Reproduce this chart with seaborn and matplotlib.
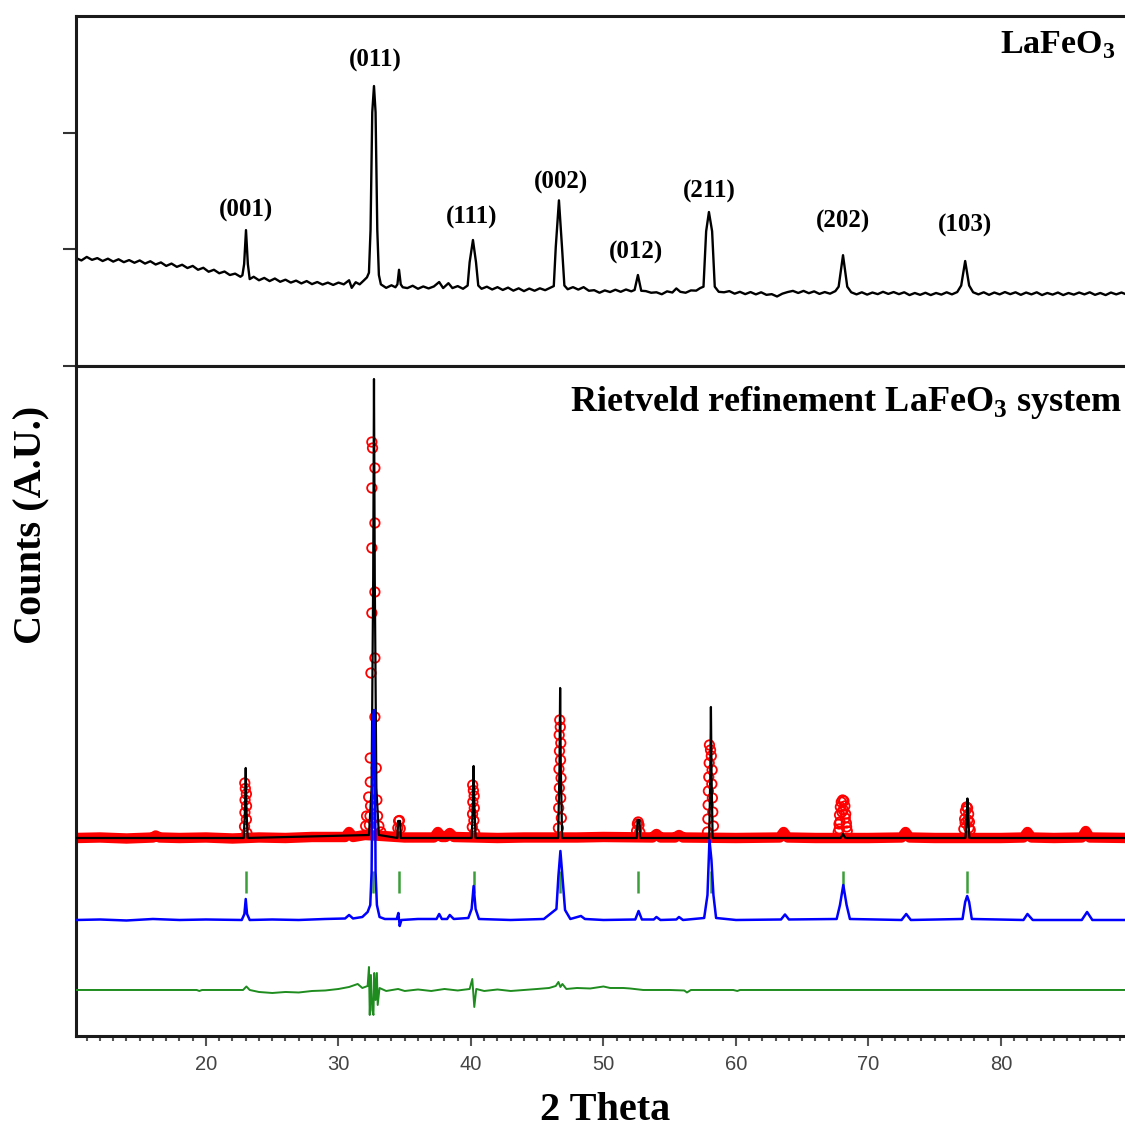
import matplotlib
matplotlib.use('Agg')
import matplotlib.pyplot as plt
from matplotlib.ticker import MultipleLocator, NullLocator
import seaborn as sns

# ── data ──────────────────────────────────────────────────────
# top panel: raw LaFeO3 pattern (2theta, counts)
top_tt = [10.2, 10.6, 11.0, 11.4, 11.8, 12.2, 12.6, 13.0, 13.4, 13.8,
          14.2, 14.6, 15.0, 15.4, 15.8, 16.2, 16.6, 17.0, 17.4, 17.8,
          18.2, 18.6, 19.0, 19.4, 19.8, 20.2, 20.6, 21.0, 21.4, 21.8,
          22.2, 22.6, 22.75, 22.88, 23.02, 23.16, 23.3, 23.6, 24.0, 24.4,
          24.8, 25.2, 25.6, 26.0, 26.4, 26.8, 27.2, 27.6, 28.0, 28.4,
          28.8, 29.2, 29.6, 30.0, 30.4, 30.8, 31.0, 31.3, 31.6, 31.9,
          32.15, 32.3, 32.42, 32.55, 32.68, 32.8, 32.93, 33.05, 33.2, 33.6,
          34.0, 34.3, 34.45, 34.57, 34.7, 34.85, 35.2, 35.6, 36.0, 36.4,
          36.8, 37.2, 37.6, 37.9, 38.3, 38.6, 39.0, 39.4, 39.75, 39.9,
          40.15, 40.38, 40.55, 40.8, 41.2, 41.6, 42.0, 42.4, 42.8, 43.2,
          43.6, 44.0, 44.4, 44.8, 45.2, 45.6, 46.0, 46.25, 46.4, 46.64,
          46.87, 47.05, 47.3, 47.7, 48.1, 48.5, 48.9, 49.3, 49.7, 50.1,
          50.5, 50.9, 51.3, 51.7, 52.1, 52.35, 52.6, 52.85, 53.2, 53.6,
          54.0, 54.4, 54.8, 55.2, 55.5, 55.8, 56.2, 56.6, 57.0, 57.3,
          57.55, 57.75, 57.96, 58.2, 58.4, 58.7, 59.1, 59.5, 59.9, 60.3,
          60.7, 61.1, 61.5, 61.9, 62.3, 62.7, 63.1, 63.5, 63.9, 64.3,
          64.7, 65.1, 65.5, 65.9, 66.3, 66.7, 67.1, 67.5, 67.75, 68.08,
          68.4, 68.7, 69.1, 69.5, 69.9, 70.3, 70.7, 71.1, 71.5, 71.9,
          72.3, 72.7, 73.1, 73.5, 73.9, 74.3, 74.7, 75.1, 75.5, 75.9,
          76.3, 76.7, 77.0, 77.3, 77.6, 77.9, 78.3, 78.7, 79.1, 79.5,
          79.9, 80.3, 80.7, 81.1, 81.5, 81.9, 82.3, 82.7, 83.1, 83.5,
          83.9, 84.3, 84.7, 85.1, 85.5, 85.9, 86.3, 86.7, 87.1, 87.5,
          87.9, 88.3, 88.7, 89.1, 89.5, 89.7]
top_I = [925, 905, 935, 910, 925, 900, 920, 895, 915, 890,
         908, 885, 905, 878, 898, 870, 888, 858, 878, 850,
         868, 840, 858, 825, 842, 808, 825, 795, 810, 780,
         792, 765, 778, 874, 1165, 874, 745, 765, 735, 755,
         728, 750, 722, 740, 715, 732, 708, 728, 702, 720,
         698, 715, 695, 715, 700, 735, 670, 718, 700, 732,
         760, 800, 1165, 2175, 2400, 2175, 1165, 780, 700, 670,
         692, 675, 700, 825, 700, 675, 668, 688, 662, 682,
         665, 682, 720, 668, 710, 668, 685, 662, 690, 890,
         1080, 890, 690, 662, 680, 656, 676, 652, 672, 646,
         666, 642, 664, 645, 666, 650, 672, 685, 1020, 1420,
         1020, 690, 658, 676, 655, 676, 645, 650, 628, 648,
         634, 654, 636, 656, 640, 652, 780, 645, 642, 628,
         632, 615, 640, 630, 665, 636, 628, 648, 646, 668,
         680, 1155, 1320, 1155, 680, 636, 632, 642, 620, 636,
         616, 634, 614, 632, 610, 616, 596, 620, 634, 644,
         626, 644, 624, 640, 618, 634, 620, 642, 680, 950,
         680, 632, 614, 632, 612, 630, 616, 636, 618, 634,
         616, 632, 608, 626, 610, 628, 608, 626, 612, 632,
         614, 634, 690, 900, 690, 632, 614, 632, 610, 630,
         614, 634, 616, 632, 610, 630, 614, 632, 608, 626,
         612, 630, 608, 626, 612, 630, 614, 632, 610, 626,
         608, 630, 614, 630, 612, 620]

hkl_labels = ['(001)', '(011)', '(111)', '(002)', '(012)', '(211)', '(202)', '(103)']
hkl_tt = [23.02, 32.75, 40.08, 46.79, 52.45, 57.96, 68.08, 77.28]
hkl_y = [1330, 2620, 1275, 1570, 977, 1500, 1243, 1208]

# bottom panel: observed background band (2theta, counts)
band_tt = [10.2, 12.0, 14.0, 16.0, 16.2, 16.5, 18.0, 20.0, 22.0, 24.0,
           26.0, 28.0, 30.5, 30.8, 31.1, 32.0, 33.3, 35.0, 37.2, 37.5,
           37.8, 38.1, 38.4, 38.7, 42.0, 44.0, 48.0, 50.0, 53.7, 54.0,
           54.3, 55.4, 55.7, 56.0, 60.0, 63.3, 63.6, 63.9, 66.0, 70.0,
           72.5, 72.8, 73.1, 75.0, 80.0, 81.7, 82.0, 82.3, 84.0, 86.1,
           86.4, 86.7, 89.7]
band_I = [0, 5, -5, 5, 25, 5, 0, 5, -5, 5,
          0, 10, 10, 60, 10, 30, 20, 5, 5, 60,
          10, 10, 50, 10, 0, 5, 5, 10, 5, 40,
          5, 5, 30, 5, 0, 5, 60, 5, 0, 0,
          5, 60, 5, 0, 0, 5, 60, 5, 0, 5,
          70, 5, 0]

# observed points on the peaks
obs_tt = ([22.93, 22.97, 23.05, 22.95, 23.06, 22.94, 23.05, 22.91, 23.09]
          + [32.52, 32.57, 32.75, 32.52, 32.75, 32.52, 32.75, 32.52, 32.75, 32.45,
             32.75, 32.40, 32.40, 32.28, 32.42, 32.38, 32.33, 32.85, 32.90, 32.95,
             33.05, 33.2, 32.05, 32.12]
          + [34.48, 34.54, 34.60, 34.66]
          + [40.13, 40.18, 40.24, 40.14, 40.25, 40.12, 40.22, 40.1, 40.28]
          + [46.70, 46.74, 46.66, 46.78, 46.68, 46.76, 46.64, 46.80, 46.67, 46.77,
             46.62, 46.82, 46.6]
          + [52.5, 52.56, 52.62, 52.68, 52.74]
          + [58.0, 58.08, 58.14, 57.98, 58.2, 57.95, 58.18, 57.92, 58.22, 57.9,
             58.25, 57.88, 58.3, 57.85]
          + [67.72, 67.78, 67.82, 67.88, 67.95, 68.05, 68.15, 68.22, 68.28, 68.33,
             68.4, 67.85, 68.0, 68.1, 68.25, 67.8, 68.35]
          + [77.2, 77.26, 77.32, 77.4, 77.48, 77.56, 77.62, 77.68, 77.3, 77.5, 77.58])
obs_I = ([550, 495, 440, 380, 320, 255, 185, 115, 50]
         + [3960, 3900, 3700, 3500, 3150, 2900, 2460, 2250, 1800, 1650,
            1210, 800, 560, 410, 320, 220, 130, 700, 380, 220,
            120, 60, 120, 220]
         + [100, 170, 175, 95]
         + [530, 475, 420, 360, 300, 240, 175, 110, 50]
         + [1180, 1110, 1030, 950, 870, 780, 690, 600, 500, 400, 300, 200, 100]
         + [70, 140, 160, 130, 60]
         + [930, 880, 820, 750, 680, 610, 540, 470, 400, 330, 260, 190, 120, 60]
         + [60, 140, 230, 310, 360, 380, 370, 320, 240, 150, 70, 160, 260, 280, 200, 90, 110]
         + [90, 190, 270, 310, 300, 240, 160, 80, 150, 180, 100])

# calculated profile
calc_tt = [10.2, 22.85, 22.95, 23.0, 23.05, 23.15, 32.3, 32.5, 32.62, 32.68,
           32.74, 32.86, 33.05, 34.45, 34.5, 34.65, 34.7, 40.05, 40.15, 40.2,
           40.25, 40.35, 46.58, 46.68, 46.73, 46.78, 46.88, 52.52, 52.57, 52.72,
           52.77, 57.98, 58.06, 58.11, 58.16, 58.24, 67.9, 68.08, 68.26, 77.32,
           77.42, 77.47, 77.52, 77.62, 89.7]
calc_I = [0, 0, 300, 700, 300, 0, 30, 500, 2600, 4590,
          2600, 500, 30, 0, 170, 170, 0, 0, 350, 720,
          350, 0, 0, 700, 1500, 700, 0, 0, 180, 180,
          0, 0, 600, 1310, 600, 0, 0, 40, 0, 0,
          200, 395, 200, 0, 0]

# blue trace
blue_tt = [10.2, 12.0, 14.0, 16.0, 18.0, 20.0, 22.7, 22.9, 23.0, 23.1,
           23.3, 25.0, 27.0, 29.0, 30.5, 30.8, 31.1, 31.8, 32.2, 32.4,
           32.5, 32.6, 32.68, 32.75, 32.8, 32.9, 33.1, 33.5, 34.4, 34.52,
           34.62, 34.75, 36.0, 37.4, 37.6, 37.8, 38.2, 38.4, 38.7, 39.8,
           40.05, 40.2, 40.35, 40.6, 43.0, 45.5, 46.45, 46.6, 46.75, 46.9,
           47.1, 47.5, 48.3, 48.6, 50.0, 52.4, 52.65, 52.9, 53.8, 54.0,
           54.3, 55.5, 55.7, 56.0, 57.6, 57.85, 58.0, 58.15, 58.3, 58.5,
           60.0, 63.4, 63.7, 64.0, 67.6, 67.85, 68.1, 68.35, 68.6, 72.5,
           72.85, 73.2, 77.1, 77.3, 77.45, 77.6, 77.8, 81.7, 82.0, 82.4,
           86.1, 86.5, 86.9, 89.7]
blue_I = [0, 5, -5, 10, 0, 5, 0, 60, 210, 60,
          0, 5, 0, 10, 15, 50, 15, 30, 80, 150,
          480, 1980, 2100, 1580, 480, 150, 30, 10, 10, 70,
          -60, 0, 10, 10, 60, 10, 10, 50, 10, 20,
          110, 340, 110, 10, 0, 10, 110, 440, 690, 440,
          100, 10, 40, 10, 0, 5, 90, 5, 5, 30,
          0, 5, 30, 0, 20, 250, 800, 600, 250, 20,
          0, 5, 55, 5, 10, 150, 350, 150, 10, 0,
          60, 0, 10, 180, 240, 180, 10, 0, 60, 0,
          0, 80, 0, 0]

# difference curve
diff_tt = [10.2, 19.3, 19.5, 19.7, 22.8, 23.05, 23.3, 24.0, 25.0, 26.0,
           27.0, 28.0, 29.0, 30.0, 30.8, 31.45, 31.8, 32.2, 32.3, 32.36,
           32.45, 32.55, 32.64, 32.7, 32.8, 32.9, 32.96, 33.1, 33.6, 34.5,
           35.0, 36.0, 37.0, 38.0, 39.0, 39.9, 40.1, 40.25, 40.4, 41.0,
           42.0, 43.0, 44.0, 45.0, 45.9, 46.4, 46.6, 46.75, 46.9, 47.2,
           48.0, 49.0, 50.0, 50.5, 51.5, 52.0, 53.0, 55.0, 56.1, 56.3,
           56.6, 59.8, 60.1, 60.3, 89.7]
diff_I = [0, 0, -10, 0, 0, 35, 0, -20, -30, -20,
          -25, -10, -5, 10, 30, 60, 20, 40, 230, -250,
          150, -200, -250, 170, -100, 170, -150, 20, -10, 10,
          -10, 5, -10, 10, -5, 10, 110, -170, 10, -10,
          5, -10, 0, 10, 20, 40, 80, 30, 60, 10,
          20, 15, 35, 20, 20, 15, 0, 0, -5, -25,
          0, 0, -10, 0, 0]

bragg_tt = [23.0, 32.6, 34.6, 40.2, 46.7, 52.6, 58.1, 68.05, 77.45]

# ── style / layout ────────────────────────────────────────────
BLUE_OFF = -820
DIFF_OFF = -1520
TICK_LO, TICK_HI = -550, -330
XLIM = (10.19, 89.74)

sns.set_style('ticks')
plt.rcParams.update({
    'font.family': ['Liberation Serif', 'DejaVu Serif'],
    'mathtext.fontset': 'custom',
    'mathtext.rm': 'Liberation Serif',
    'mathtext.bf': 'Liberation Serif:bold',
    'axes.linewidth': 2.2,
    'axes.edgecolor': '#1a1a1a',
    'text.color': 'black',
})

fig = plt.figure(figsize=(11.25, 11.3), dpi=100)
L, W = 76 / 1125, 1054 / 1125
ax_top = fig.add_axes([L, 0.6761, W, 0.3097])
ax_bot = fig.add_axes([L, 0.0832, W, 0.5929])

# ── top panel ─────────────────────────────────────────────────
sns.lineplot(x=top_tt, y=top_I, ax=ax_top, color='black', lw=1.7,
             sort=False, estimator=None)
for lab, tx, ty in zip(hkl_labels, hkl_tt, hkl_y):
    ax_top.text(tx, ty, lab, ha='center', va='center', fontsize=18,
                fontweight='bold')
ax_top.set_xlim(*XLIM)
ax_top.set_ylim(0, 3000)
ax_top.set_yticks([0, 1000, 2000])
ax_top.set_yticklabels([])
ax_top.tick_params(axis='y', direction='out', length=9.5, width=1.5, color='#333333')
ax_top.tick_params(axis='x', bottom=False, labelbottom=False)
ax_top.spines['right'].set_visible(False)
ax_top.set_xlabel('')
ax_top.set_ylabel('')

# ── bottom panel ──────────────────────────────────────────────
sns.lineplot(x=band_tt, y=band_I, ax=ax_bot, color='#ff0000', lw=7.5,
             sort=False, estimator=None, zorder=2)
sns.scatterplot(x=obs_tt, y=obs_I, ax=ax_bot, marker='o', s=46,
                facecolor='none', edgecolor='#ff0000', linewidth=1.3, zorder=3)
sns.lineplot(x=calc_tt, y=calc_I, ax=ax_bot, color='black', lw=1.6,
             sort=False, estimator=None, zorder=4)
sns.lineplot(x=blue_tt, y=[v + BLUE_OFF for v in blue_I], ax=ax_bot,
             color='#0000ff', lw=1.8, sort=False, estimator=None, zorder=5)
ax_bot.vlines(bragg_tt, TICK_LO, TICK_HI, color='#3a9e3a', lw=1.8, zorder=4)
sns.lineplot(x=diff_tt, y=[v + DIFF_OFF for v in diff_I], ax=ax_bot,
             color='#1e8c1e', lw=1.4, sort=False, estimator=None, zorder=5)

ax_bot.set_xlim(*XLIM)
ax_bot.set_ylim(-1980, 4720)
ax_bot.yaxis.set_major_locator(NullLocator())
ax_bot.xaxis.set_major_locator(MultipleLocator(10))
ax_bot.xaxis.set_minor_locator(MultipleLocator(1))
ax_bot.tick_params(axis='x', which='major', direction='out', length=7.5, width=1.5,
                   color='#555555', labelsize=14.5, labelcolor='#444444', pad=6)
ax_bot.tick_params(axis='x', which='minor', direction='out', length=3.5, width=1.5,
                   color='#555555')
for t in ax_bot.get_xticklabels():
    t.set_family('Liberation Sans')
ax_bot.spines['right'].set_visible(False)
ax_bot.set_xlabel('')
ax_bot.set_ylabel('')

# ── text ──────────────────────────────────────────────────────
fig.text(1115 / 1125, 1 - 45 / 1130, r'LaFeO$_\mathbf{3}$', ha='right', va='center',
         fontsize=24.5, fontweight='bold')
fig.text(1122 / 1125, 1 - 402 / 1130, r'Rietveld refinement LaFeO$_\mathbf{3}$ system',
         ha='right', va='center', fontsize=26, fontweight='bold')
fig.text(605 / 1125, 1 - 1110 / 1130, '2 Theta', ha='center', va='center',
         fontsize=29, fontweight='bold')
fig.text(32 / 1125, 1 - 525 / 1130, 'Counts (A.U.)', rotation=90, ha='center',
         va='center', fontsize=29, fontweight='bold')

fig.savefig('out.png', dpi=100)
